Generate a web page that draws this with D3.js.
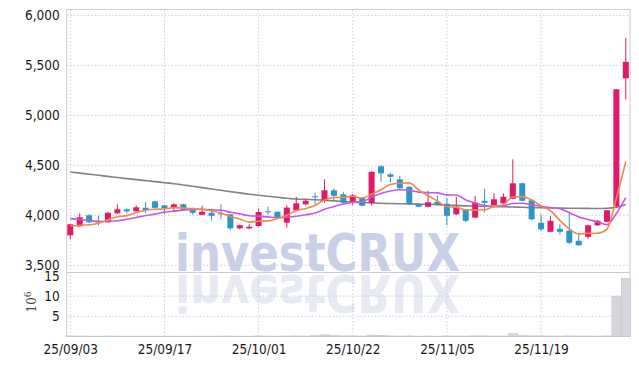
<!DOCTYPE html>
<html><head><meta charset="utf-8">
<script src="https://cdn.jsdelivr.net/npm/d3@7/dist/d3.min.js"></script>
<style>body{margin:0;background:#fff}svg{display:block}</style>
</head><body>
<svg id="c" width="639" height="366"></svg>
<script>
const dates=["25/09/03","25/09/04","25/09/05","25/09/08","25/09/09","25/09/10","25/09/11","25/09/12","25/09/15","25/09/16",
"25/09/17","25/09/18","25/09/19","25/09/22","25/09/23","25/09/24","25/09/25","25/09/26","25/09/29","25/09/30",
"25/10/01","25/10/02","25/10/10","25/10/13","25/10/14","25/10/15","25/10/16","25/10/17","25/10/20","25/10/21",
"25/10/22","25/10/23","25/10/24","25/10/27","25/10/28","25/10/29","25/10/30","25/10/31","25/11/03","25/11/04",
"25/11/05","25/11/06","25/11/07","25/11/10","25/11/11","25/11/12","25/11/13","25/11/14","25/11/17","25/11/18",
"25/11/19","25/11/20","25/11/21","25/11/24","25/11/25","25/11/26","25/11/27","25/11/28","25/12/01","25/12/02"];
const opens=[3800,3890,4000,3945,3930,4020,4060,4040,4075,4140,4100,4083,4110,4065,4005,4025,4020,4010,3870,3870,
3893,4040,4035,3927,4050,4110,4190,4145,4250,4210,4135,4175,4125,4490,4410,4360,4285,4110,4085,4135,
4115,4010,4060,3977,4145,4100,4120,4165,4320,4150,3925,3835,3865,3845,3745,3785,3900,3935,4090,5370];
const highs=[3910,4020,4010,3995,4035,4110,4070,4100,4135,4145,4105,4120,4115,4075,4095,4065,4110,4015,3905,3910,
4067,4085,4040,4100,4185,4160,4225,4360,4270,4235,4215,4180,4440,4500,4425,4395,4290,4120,4245,4195,
4175,4185,4065,4195,4265,4220,4220,4560,4325,4155,4010,3995,3910,4035,3825,3905,3955,4055,5260,5775];
const lows=[3760,3885,3920,3900,3925,4015,4020,4035,4020,4060,4010,4040,4045,4005,4000,3950,3960,3850,3860,3860,
3885,4005,3965,3877,4040,4100,4095,4125,4145,4120,4100,4090,4100,4335,4330,4265,4105,4080,4080,4100,
3900,4005,3930,3970,4030,4095,4115,4160,4140,3950,3845,3830,3810,3710,3695,3765,3895,3930,4080,5160];
const closes=[3910,3980,3930,3930,4025,4060,4040,4080,4050,4075,4070,4110,4055,4025,4035,3995,4010,3870,3900,3885,
4033,4030,3975,4077,4120,4145,4180,4250,4195,4125,4200,4095,4435,4420,4385,4270,4110,4085,4130,4110,
3995,4085,3945,4127,4125,4160,4185,4320,4145,3960,3860,3945,3835,3725,3700,3900,3945,4050,5260,5535];
const volumes=[0.15,0.12,0.1,0.08,0.12,0.1,0.08,0.1,0.09,0.1,0.08,0.09,0.08,0.08,0.1,0.09,0.1,0.12,0.08,0.08,
0.15,0.1,0.09,0.12,0.15,0.12,0.2,0.4,0.2,0.15,0.15,0.12,0.35,0.3,0.15,0.12,0.15,0.08,0.12,0.08,
0.15,0.12,0.1,0.15,0.15,0.1,0.12,0.7,0.2,0.15,0.15,0.12,0.1,0.15,0.12,0.12,0.1,0.15,10.0,14.4];
const ma5=[3895,3898,3905,3920,3955,3985,3997,4027,4051,4061,4063,4077,4072,4067,4059,4044,4024,3987,3962,3932,
3940,3944,3965,4000,4047,4069,4099,4154,4178,4179,4190,4173,4210,4255,4307,4321,4324,4254,4196,4141,
4086,4081,4053,4052,4055,4088,4108,4183,4187,4154,4094,4046,3949,3865,3813,3821,3821,3864,4171,4538];
const ma10=[3967,3958,3948,3938,3940,3945,3960,3978,3998,4012,4030,4042,4052,4059,4060,4054,4051,4030,4015,3996,
3992,3984,3976,3981,3990,4005,4022,4060,4089,4113,4130,4136,4182,4217,4243,4256,4249,4232,4226,4224,
4204,4203,4154,4124,4098,4087,4095,4118,4120,4105,4091,4077,4066,4026,3984,3958,3934,3907,4018,4176];
const ma60=[4433,4422,4411,4400,4389,4378,4367,4357,4347,4337,4326,4316,4303,4290,4277,4263,4250,4237,4224,4211,
4200,4190,4180,4170,4163,4159,4155,4150,4144,4138,4132,4128,4124,4120,4118,4116,4114,4112,4110,4107,
4103,4099,4094,4092,4090,4088,4086,4083,4080,4077,4075,4073,4072,4071,4070,4069,4068,4070,4080,4108];
const priceTicks=[3500,4000,4500,5000,5500,6000];
const volTicks=[5,10,15];
const dateTicks=["25/09/03","25/09/17","25/10/01","25/10/22","25/11/05","25/11/19"];

const svg=d3.select("#c");
const L=66.7,R=630,T=9.5,B=336.5,SEP=272.5;
const x=d3.scalePoint().domain(dates).range([70.3,625.8]);
const y=d3.scaleLinear().domain([3433,6058]).range([272,9.5]);
const yv=d3.scaleLinear().domain([0,15.85]).range([B,SEP]);
const UP="#e2186b",DN="#2f95c6",GRID="#c9cce0",FRAME="#cbcbd3";
const font="'DejaVu Sans Condensed','Liberation Sans Narrow',sans-serif";

// watermark
const wm=svg.append("g").attr("font-family","'DejaVu Sans',sans-serif").attr("font-weight",700).attr("font-size",52);
wm.append("text").attr("x",175).attr("y",271).attr("textLength",285).attr("lengthAdjust","spacingAndGlyphs")
 .attr("fill","#c9d0e7").text("investCRUX");
wm.append("text").attr("x",175).attr("y",-275).attr("transform","scale(1,-1)").attr("textLength",285).attr("lengthAdjust","spacingAndGlyphs")
 .attr("fill","#e7e9f3").text("investCRUX");

// grid
const g=svg.append("g");
g.selectAll("line.h").data(priceTicks).join("line").attr("x1",L).attr("x2",R).attr("y1",d=>y(d)).attr("y2",d=>y(d))
 .attr("stroke",GRID).attr("stroke-dasharray","1.5,2");
g.selectAll("line.hv").data(volTicks.slice(0,2)).join("line").attr("x1",L).attr("x2",R).attr("y1",d=>yv(d)).attr("y2",d=>yv(d))
 .attr("stroke",GRID).attr("stroke-dasharray","1.5,2");
g.selectAll("line.v").data(dateTicks).join("line").attr("x1",d=>x(d)).attr("x2",d=>x(d)).attr("y1",T).attr("y2",B)
 .attr("stroke",GRID).attr("stroke-dasharray","1.5,2");

// frame
const f=svg.append("g").attr("stroke",FRAME).attr("fill","none");
f.append("rect").attr("x",L).attr("y",T).attr("width",R-L).attr("height",B-T);
f.append("line").attr("x1",L).attr("x2",R).attr("y1",SEP).attr("y2",SEP);

// volume
svg.append("g").selectAll("rect").data(dates).join("rect")
 .attr("x",d=>x(d)-4.5).attr("width",9).attr("y",(d,i)=>yv(volumes[i])).attr("height",(d,i)=>B-yv(volumes[i]))
 .attr("fill","#d5d5dc").attr("stroke","#c2c2cc").attr("stroke-width",0.6);

// price clip
svg.append("clipPath").attr("id","pc").append("rect").attr("x",L).attr("y",T).attr("width",R-L).attr("height",SEP-T);
const p=svg.append("g").attr("clip-path","url(#pc)");
const line=arr=>d3.line().x((d,i)=>x(dates[i])).y(d=>y(d)).curve(d3.curveMonotoneX)(arr);
p.append("path").attr("d",line(ma60)).attr("fill","none").attr("stroke","#828282").attr("stroke-width",1.6);

const c=p.append("g");
c.selectAll("line").data(dates).join("line").attr("x1",d=>x(d)).attr("x2",d=>x(d))
 .attr("y1",(d,i)=>y(highs[i])).attr("y2",(d,i)=>y(lows[i]))
 .attr("stroke",(d,i)=>closes[i]>=opens[i]?UP:DN).attr("stroke-width",1);
c.selectAll("rect").data(dates).join("rect").attr("x",d=>x(d)-3).attr("width",6)
 .attr("y",(d,i)=>y(Math.max(opens[i],closes[i])))
 .attr("height",(d,i)=>Math.max(1,Math.abs(y(opens[i])-y(closes[i]))))
 .attr("fill",(d,i)=>closes[i]>=opens[i]?UP:DN);

p.append("path").attr("d",line(ma10)).attr("fill","none").attr("stroke","#c55ae0").attr("stroke-width",1.6);
p.append("path").attr("d",line(ma5)).attr("fill","none").attr("stroke","#ee8a4c").attr("stroke-width",1.6);

// axes
const ya=svg.append("g").attr("transform",`translate(${L},0)`)
 .call(d3.axisLeft(y).tickValues(priceTicks).tickSize(0).tickPadding(7).tickFormat(d3.format(",")));
ya.select(".domain").remove();
const va=svg.append("g").attr("transform",`translate(${L},0)`)
 .call(d3.axisLeft(yv).tickValues(volTicks).tickSize(0).tickPadding(7));
va.select(".domain").remove();
const xa=svg.append("g").attr("transform",`translate(0,${B})`)
 .call(d3.axisBottom(x).tickValues(dateTicks).tickSize(0).tickPadding(8));
xa.select(".domain").remove();
svg.selectAll(".tick text").attr("font-family",font).attr("font-size",13.5).attr("fill","#1a1a1a");

svg.append("text").attr("transform","translate(36,302) rotate(-90)").attr("text-anchor","middle")
 .attr("font-family","'DejaVu Serif',serif").attr("font-size",12).attr("fill","#444")
 .html('10<tspan dy="-5" font-size="9">6</tspan>');
</script>
</body></html>
